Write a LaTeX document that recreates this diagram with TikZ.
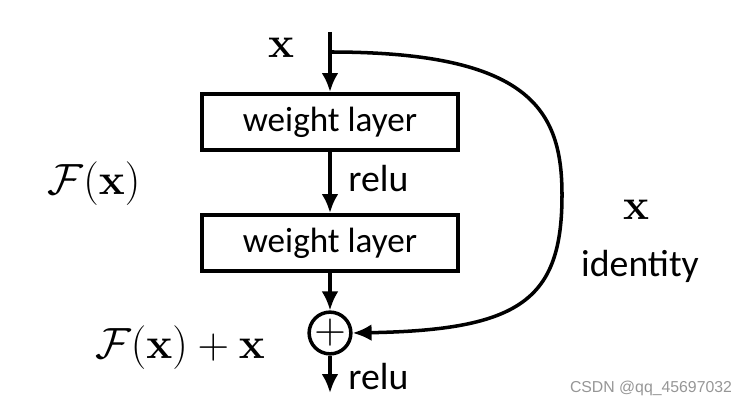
\documentclass[tikz,border=0pt]{standalone}
\usepackage{amsmath}
\usepackage[no-math]{fontspec}
\setmainfont{Carlito}
\newfontfamily\wmfont{Liberation Sans}
\usepackage{tikz}
\usetikzlibrary{arrows.meta}
\definecolor{wmgray}{RGB}{150,150,150}
\tikzset{
  layer/.style={draw, line width=2pt, minimum width=5.13cm, minimum height=1.13cm,
    font=\fontsize{20}{24}\selectfont},
  lbl/.style={font=\fontsize{21.5}{26}\selectfont, inner sep=0pt},
  mth/.style={font=\fontsize{25}{30}\selectfont, inner sep=0pt},
  sum/.style={draw, circle, line width=2pt, minimum size=0.8cm, inner sep=0pt,
    font=\fontsize{28}{30}\selectfont},
  flow/.style={line width=2pt, -{Latex[length=10.8pt,width=9.6pt]}}
}
\begin{document}
\begin{tikzpicture}[x=0.02cm, y=0.02cm]
	 \useasboundingbox (0,0) rectangle (753,406);
	 \coordinate (in) at (330,374);
	 \coordinate (split) at (330,354);
	 \node[layer] (w1) at (330,284) {weight layer};
	 \node[layer] (w2) at (330,163) {weight layer};
	 \node[sum] (plus) at (330,73) {$+$};
	 \coordinate (out) at (330,13);
	 \node[mth] (xin) at (281,358) {$\mathbf{x}$};
	 \node[mth] (fx) at (94,222) {$\mathcal{F}(\mathbf{x})$};
	 \node[mth] (fxx) at (180,58) {$\mathcal{F}(\mathbf{x})+\mathbf{x}$};
	 \node[lbl, anchor=west] (relu1) at (348,227) {relu};
	 \node[lbl, anchor=west] (relu2) at (348,29) {relu};
	 \node[mth] (xid) at (636,196) {$\mathbf{x}$};
	 \node[lbl] (ident) at (640,140) {identity};
	 \node[font=\wmfont\fontsize{9}{11}\selectfont, text=wmgray, inner sep=0pt] (wm) at (651,18) {CSDN @qq\_45697032};
	 \draw[flow] (in) -- (w1.north);
	 \draw[flow] (w1.south) -- (w2.north);
	 \draw[flow] (w2.south) -- (plus.north);
	 \draw[flow] (plus.south) -- (out);
	 \draw[flow] (split) .. controls (530,354) and (562,296) .. (562,211)
	   .. controls (562,106) and (520,76) .. (plus.east);
\end{tikzpicture}
\end{document}
